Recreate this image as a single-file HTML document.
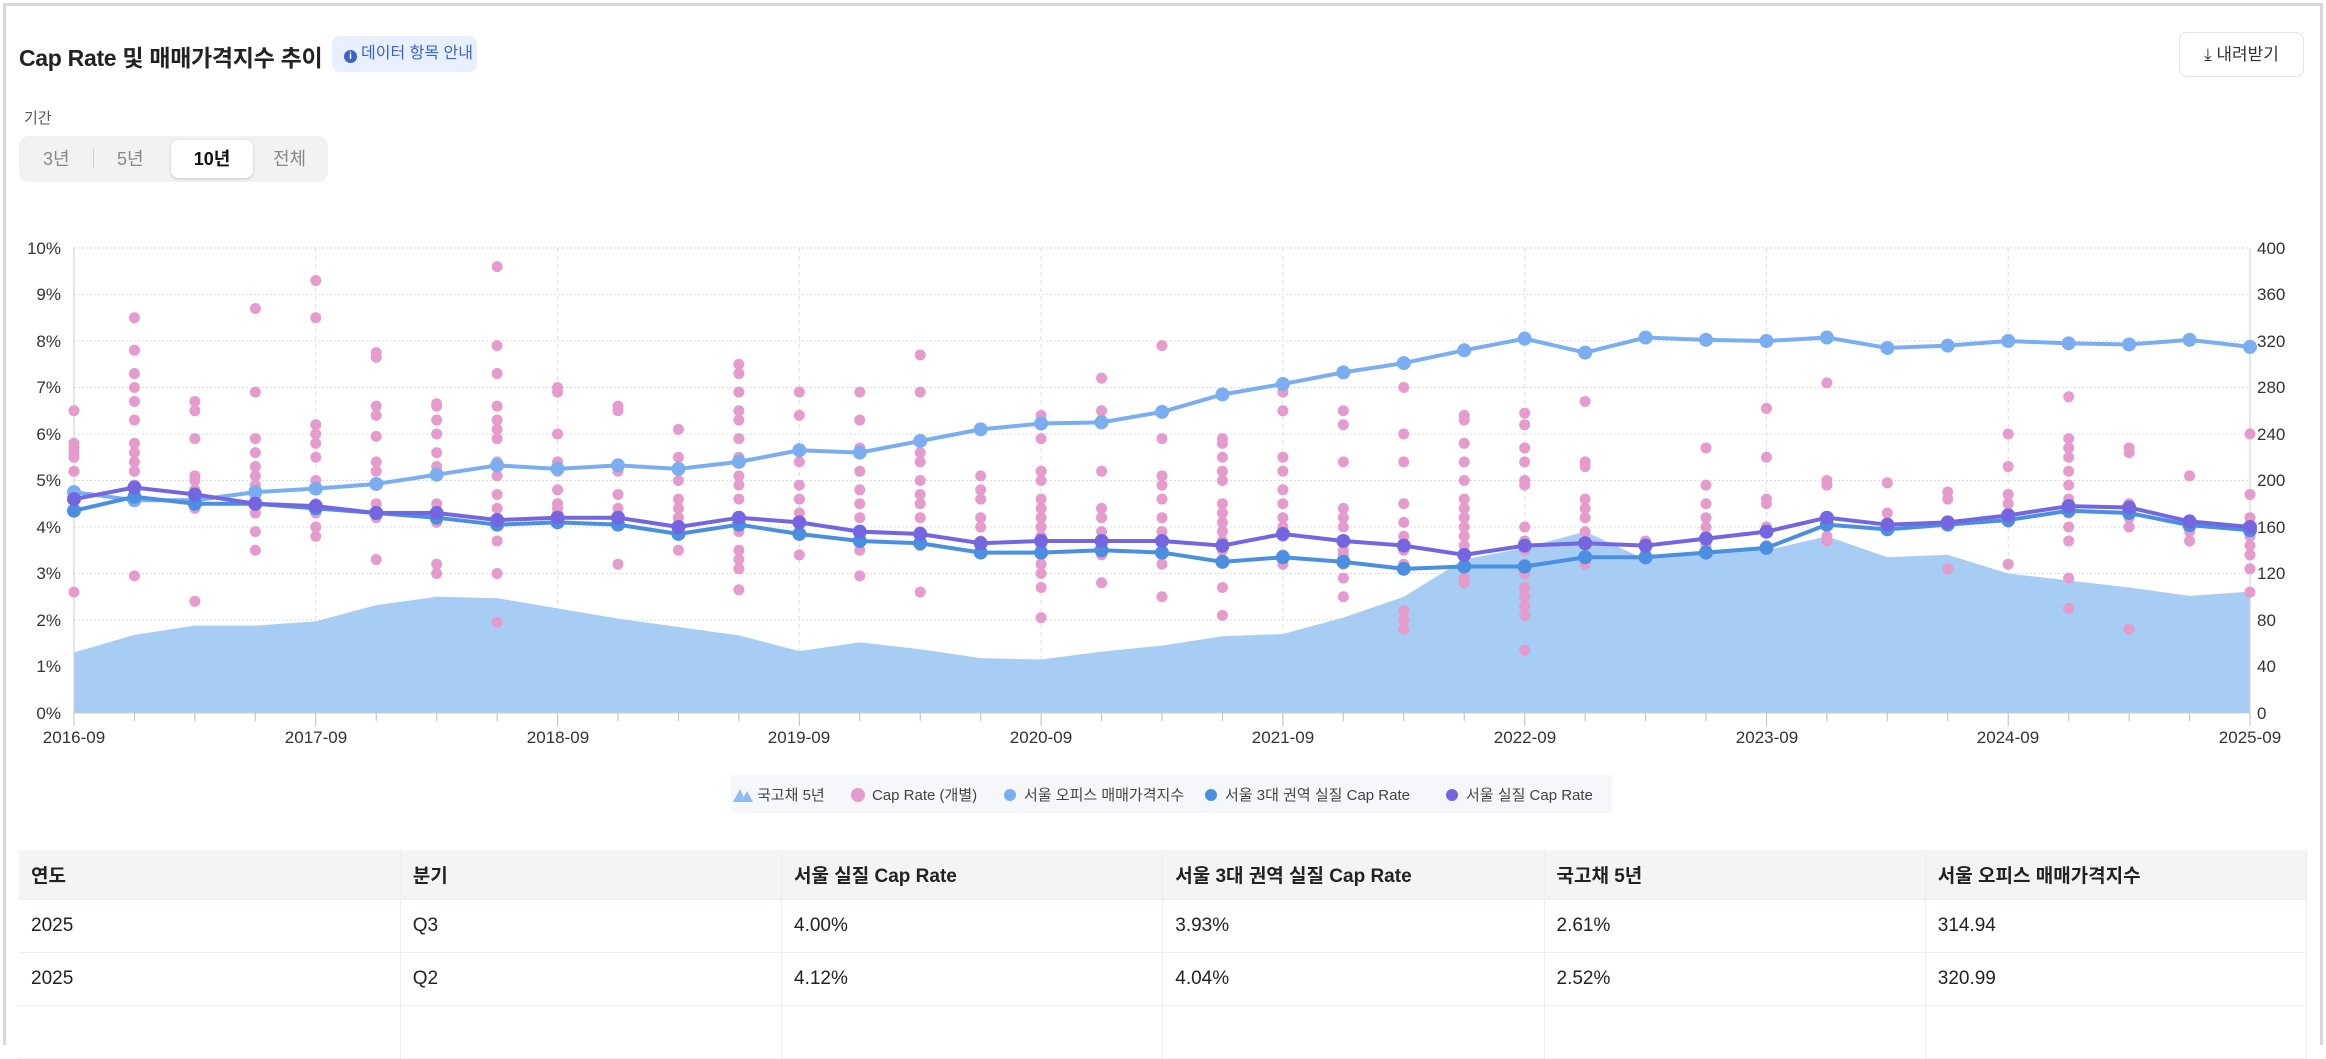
<!DOCTYPE html>
<html><head><meta charset="utf-8">
<style>
*{box-sizing:border-box;margin:0;padding:0}
body{width:2326px;height:1048px;background:#fff;font-family:"Liberation Sans","Noto Sans CJK KR",sans-serif;position:relative;overflow:hidden;color:#222}
.card{position:absolute;left:3px;top:3px;width:2320px;height:1042px;border:3px solid #d9d9d9;border-bottom:none}
.title{position:absolute;left:19px;top:39px;font-size:23px;font-weight:bold;color:#222;white-space:nowrap;letter-spacing:-0.3px}
.badge{position:absolute;left:332px;top:36px;width:145px;height:36px;background:#e8effd;border-radius:8px;color:#3b63c9;font-size:16px;line-height:36px;padding-left:12px;white-space:nowrap}
.badge i{display:inline-block;width:13px;height:13px;border-radius:50%;background:#3b63c9;color:#fff;font-size:10px;font-style:normal;text-align:center;line-height:13px;font-weight:bold;vertical-align:-1px;margin-right:4px}
.dl{position:absolute;left:2179px;top:32px;width:125px;height:45px;border:1px solid #e3e3e3;border-radius:8px;font-size:17px;line-height:43px;text-align:center;color:#333}
.lbl{position:absolute;left:24px;top:107px;font-size:15px;color:#555}
.seg{position:absolute;left:19px;top:136px;width:309px;height:46px;background:#f1f2f4;border-radius:10px;font-size:18px;color:#888}
.seg span{position:absolute;top:0;line-height:46px}
.seg .on{left:152px;top:4px;width:82px;height:38px;background:#fff;border-radius:8px;box-shadow:0 1px 3px rgba(0,0,0,.18);color:#111;text-align:center;line-height:38px;font-weight:bold}
table{position:absolute;left:19px;top:850px;width:2288px;border-collapse:collapse;font-size:19px}
td,th{height:53px;text-align:left;padding-left:12px;border-bottom:1px solid #eceef1;border-right:1px solid #eceef1;width:381px;font-weight:normal}
th{background:#f3f4f6;font-weight:bold;height:49px}
</style></head><body>
<div class="card"></div>
<div class="title">Cap Rate 및 매매가격지수 추이</div>
<div class="badge"><i>i</i>데이터 항목 안내</div>
<div class="dl">⤓ 내려받기</div>
<div class="lbl">기간</div>
<div class="seg"><span style="left:24px">3년</span><span style="left:74px;top:13px;width:1px;height:20px;background:#d0d0d0"></span><span style="left:98px">5년</span><span class="on">10년</span><span style="left:254px">전체</span></div>
<svg id="ch" width="2326" height="840" style="position:absolute;left:0;top:0" font-family="Liberation Sans,sans-serif" font-size="17" fill="#333">
<g text-anchor="end">
<text x="61" y="254">10%</text><text x="61" y="300">9%</text><text x="61" y="347">8%</text><text x="61" y="393">7%</text><text x="61" y="440">6%</text><text x="61" y="486">5%</text><text x="61" y="533">4%</text><text x="61" y="579">3%</text><text x="61" y="626">2%</text><text x="61" y="672">1%</text><text x="61" y="719">0%</text>
</g>
<g text-anchor="start">
<text x="2257" y="254">400</text><text x="2257" y="300">360</text><text x="2257" y="347">320</text><text x="2257" y="393">280</text><text x="2257" y="440">240</text><text x="2257" y="486">200</text><text x="2257" y="533">160</text><text x="2257" y="579">120</text><text x="2257" y="626">80</text><text x="2257" y="672">40</text><text x="2257" y="719">0</text>
</g>
<g text-anchor="middle">
<text x="74" y="743">2016-09</text><text x="316" y="743">2017-09</text><text x="558" y="743">2018-09</text><text x="799" y="743">2019-09</text><text x="1041" y="743">2020-09</text><text x="1283" y="743">2021-09</text><text x="1525" y="743">2022-09</text><text x="1767" y="743">2023-09</text><text x="2008" y="743">2024-09</text><text x="2250" y="743">2025-09</text>
</g>
<rect x="731" y="775" width="881" height="38" fill="#f5f7fa"/>
<g font-size="15" fill="#444">
<polygon points="733,802 740,789 746,802" fill="#8fbdf0"/><polygon points="741,802 747,791 753,802" fill="#8fbdf0"/><text x="757" y="800">국고채 5년</text>
<circle cx="858" cy="795" r="7" fill="#e59bcb"/><text x="872" y="800">Cap Rate (개별)</text>
<circle cx="1010" cy="795" r="6" fill="#7aaef0"/><text x="1024" y="800">서울 오피스 매매가격지수</text>
<circle cx="1211" cy="795" r="6" fill="#4a8fe0"/><text x="1225" y="800">서울 3대 권역 실질 Cap Rate</text>
<circle cx="1452" cy="795" r="6" fill="#7466e0"/><text x="1466" y="800">서울 실질 Cap Rate</text>
</g>
<g id="d"></g>
</svg>
<table>
<tr><th>연도</th><th>분기</th><th>서울 실질 Cap Rate</th><th>서울 3대 권역 실질 Cap Rate</th><th>국고채 5년</th><th>서울 오피스 매매가격지수</th></tr>
<tr><td>2025</td><td>Q3</td><td>4.00%</td><td>3.93%</td><td>2.61%</td><td>314.94</td></tr>
<tr><td>2025</td><td>Q2</td><td>4.12%</td><td>4.04%</td><td>2.52%</td><td>320.99</td></tr>
<tr><td></td><td></td><td></td><td></td><td></td><td></td></tr>
</table>
<script>
const L=74,R=2250,T=248,B=713,N=36;
const X=i=>L+(R-L)*i/N, Y=v=>B-(B-T)*v/10;
const seoul=[4.6,4.85,4.7,4.5,4.45,4.3,4.3,4.15,4.2,4.2,4.0,4.2,4.1,3.9,3.85,3.65,3.7,3.7,3.7,3.6,3.85,3.7,3.6,3.4,3.6,3.65,3.6,3.75,3.9,4.2,4.05,4.1,4.25,4.45,4.42,4.12,4.0];
const three=[4.35,4.65,4.5,4.5,4.4,4.3,4.2,4.05,4.1,4.05,3.85,4.05,3.85,3.7,3.65,3.45,3.45,3.5,3.45,3.25,3.35,3.25,3.1,3.15,3.15,3.35,3.35,3.45,3.55,4.05,3.95,4.05,4.15,4.35,4.3,4.04,3.93];
const idx=[190,183,183,190,193,197,205,213,210,213,210,216,226,224,234,244,249,250,259,274,283,293,301,312,322,310,323,321,320,323,314,316,320,318,317,321,314.94];
const bond=[1.3,1.68,1.88,1.88,1.97,2.32,2.5,2.47,2.25,2.03,1.85,1.67,1.33,1.52,1.37,1.18,1.15,1.32,1.45,1.65,1.7,2.05,2.5,3.3,3.55,3.9,3.3,3.5,3.5,3.8,3.35,3.4,3.0,2.85,2.7,2.52,2.61];
const sc=[[6.5,5.8,5.7,5.6,5.5,5.2,4.7,2.6],[8.5,7.8,7.3,7.0,6.7,6.3,5.8,5.6,5.4,5.2,4.9,4.7,2.95],[6.7,6.5,5.9,5.1,5.0,4.8,4.6,4.4,2.4],[8.7,6.9,5.9,5.6,5.3,5.1,4.9,4.6,4.3,3.9,3.5],[9.3,8.5,6.2,6.0,5.8,5.5,5.0,4.5,4.3,4.0,3.8],[7.75,7.65,6.6,6.4,5.95,5.4,5.2,4.9,4.5,4.2,3.3],[6.65,6.6,6.3,6.0,5.6,5.3,4.5,4.3,4.1,3.2,3.0],[9.6,7.9,7.3,6.6,6.3,6.1,5.9,5.4,5.1,4.7,4.4,4.1,3.7,3.0,1.95],[7.0,6.9,6.0,5.4,5.2,4.8,4.5,4.4,4.3,4.1],[6.6,6.5,5.3,5.2,4.7,4.4,4.2,3.2],[6.1,5.5,5.0,4.6,4.4,4.2,3.9,3.5],[7.5,7.3,6.9,6.5,6.3,5.9,5.5,5.1,4.9,4.6,4.2,3.9,3.5,3.3,3.1,2.65],[6.9,6.4,5.4,4.9,4.6,4.3,4.1,3.4],[6.9,6.3,5.7,5.2,4.8,4.5,4.2,3.9,3.5,2.95],[7.7,6.9,5.6,5.4,5.0,4.7,4.5,4.2,3.9,3.6,2.6],[5.1,4.8,4.6,4.2,4.0,3.7,3.6,3.5],[6.4,6.2,5.9,5.2,5.0,4.6,4.4,4.2,4.0,3.8,3.6,3.4,3.2,3.0,2.7,2.05],[7.2,6.5,6.3,5.2,4.4,4.2,3.9,3.6,3.4,2.8],[7.9,5.9,5.1,4.9,4.6,4.2,3.9,3.7,3.4,3.2,2.5],[5.9,5.8,5.5,5.2,5.0,4.5,4.3,4.1,3.9,3.7,3.5,3.3,2.7,2.1],[6.9,6.5,5.5,5.2,4.8,4.5,4.2,4.0,3.8,3.4,3.2],[6.5,6.2,5.4,4.4,4.2,4.0,3.7,3.5,3.4,3.2,2.9,2.5],[7.0,6.0,5.4,4.5,4.1,3.8,3.5,3.2,2.2,2.0,1.8],[6.4,6.3,5.8,5.4,5.0,4.6,4.4,4.2,4.0,3.8,3.6,3.4,3.1,2.9,2.8],[6.45,6.2,5.7,5.4,5.0,4.9,4.0,3.7,3.5,3.2,3.0,2.7,2.5,2.3,2.1,1.35],[6.7,5.4,5.3,4.6,4.4,4.2,3.9,3.6,3.3,3.2],[3.7,3.5,3.4,3.3],[5.7,4.9,4.5,4.2,4.0,3.8,3.6],[6.55,5.5,4.6,4.5,4.0,3.9,3.6],[7.1,5.0,4.9,4.2,3.8,3.7],[4.95,4.3,4.0],[4.75,4.6,4.1,3.1],[6.0,5.3,4.7,4.5,4.3,4.1,3.2],[6.8,5.9,5.7,5.5,5.2,4.9,4.6,4.3,4.0,3.7,2.9,2.25],[5.7,5.6,4.5,4.2,4.0,1.8],[5.1,4.1,3.9,3.7],[6.0,4.7,4.2,4.0,3.8,3.6,3.4,3.1,2.6]];
let s='';
for(let k=0;k<=10;k++)s+=`<line x1="${L}" x2="${R}" y1="${Y(k)}" y2="${Y(k)}" stroke="#ddd" stroke-dasharray="2,2"/>`;
for(let i=0;i<=N;i+=4)s+=`<line x1="${X(i)}" x2="${X(i)}" y1="${T}" y2="${B}" stroke="#ddd" stroke-dasharray="4,4"/>`;
let p=`M${X(0)},${B}`;bond.forEach((v,i)=>p+=`L${X(i)},${Y(v)}`);p+=`L${X(N)},${B}Z`;
s+=`<path d="${p}" fill="#a7cdf4"/>`;
s+=`<line x1="${L}" x2="${R}" y1="${B}" y2="${B}" stroke="#ccc"/><line x1="${L}" x2="${L}" y1="${T}" y2="${B}" stroke="#ccc"/><line x1="${R}" x2="${R}" y1="${T}" y2="${B}" stroke="#ccc"/>`;
for(let i=0;i<=N;i++)s+=`<line x1="${X(i)}" x2="${X(i)}" y1="${B}" y2="${B+(i%4?8:13)}" stroke="#bbb"/>`;
sc.forEach((a,i)=>a.forEach(v=>s+=`<circle cx="${X(i)}" cy="${Y(v)}" r="5.5" fill="#e59bcb"/>`));
const line=(arr,f,c)=>{let d='';arr.forEach((v,i)=>d+=(i?'L':'M')+X(i)+','+Y(f(v)));s+=`<path d="${d}" fill="none" stroke="${c}" stroke-width="4"/>`;arr.forEach((v,i)=>s+=`<circle cx="${X(i)}" cy="${Y(f(v))}" r="7" fill="${c}"/>`);};
line(idx,v=>v/40,'#7aaef0');
line(three,v=>v,'#4a8fe0');
line(seoul,v=>v,'#7466e0');
document.getElementById('d').innerHTML=s;
</script>
</body></html>
